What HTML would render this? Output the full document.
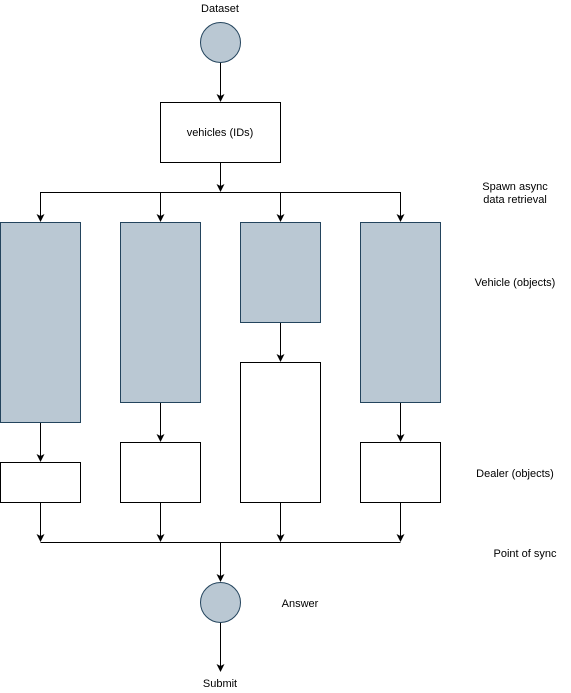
<!DOCTYPE html>
<html><head><style>body{margin:0;background:#fff}svg{display:block}text{font-family:"Liberation Sans",sans-serif;font-size:11px;fill:#000}</style></head><body>
<svg width="571" height="693" viewBox="0 0 571 693" xmlns="http://www.w3.org/2000/svg">
<defs><marker id="a" markerWidth="8" markerHeight="8" refX="7" refY="4" orient="auto" markerUnits="userSpaceOnUse"><path d="M0,0 L8,4 L0,8 L2,4 Z" fill="#000"/></marker></defs>
<g stroke="#000" fill="none" stroke-width="1">
<line x1="220.5" y1="62" x2="220.5" y2="101" marker-end="url(#a)"/>
<line x1="220.5" y1="162" x2="220.5" y2="191" marker-end="url(#a)"/>
<line x1="40.5" y1="192.5" x2="400.5" y2="192.5"/>
<line x1="40.5" y1="192" x2="40.5" y2="221" marker-end="url(#a)"/>
<line x1="160.5" y1="192" x2="160.5" y2="221" marker-end="url(#a)"/>
<line x1="280.5" y1="192" x2="280.5" y2="221" marker-end="url(#a)"/>
<line x1="400.5" y1="192" x2="400.5" y2="221" marker-end="url(#a)"/>
<line x1="40.5" y1="422" x2="40.5" y2="461" marker-end="url(#a)"/>
<line x1="160.5" y1="402" x2="160.5" y2="441" marker-end="url(#a)"/>
<line x1="280.5" y1="322" x2="280.5" y2="361" marker-end="url(#a)"/>
<line x1="400.5" y1="402" x2="400.5" y2="441" marker-end="url(#a)"/>
<line x1="40.5" y1="502" x2="40.5" y2="541" marker-end="url(#a)"/>
<line x1="160.5" y1="502" x2="160.5" y2="541" marker-end="url(#a)"/>
<line x1="280.5" y1="502" x2="280.5" y2="541" marker-end="url(#a)"/>
<line x1="400.5" y1="502" x2="400.5" y2="541" marker-end="url(#a)"/>
<line x1="40.5" y1="542.5" x2="400.5" y2="542.5"/>
<line x1="220.5" y1="542" x2="220.5" y2="581" marker-end="url(#a)"/>
<line x1="220.5" y1="622" x2="220.5" y2="671" marker-end="url(#a)"/>
</g>
<g stroke="#23445d" fill="#bac8d3">
<circle cx="220.5" cy="42.5" r="20"/>
<circle cx="220.5" cy="602.5" r="20"/>
<rect x="0.5" y="222.5" width="80" height="200"/>
<rect x="120.5" y="222.5" width="80" height="180"/>
<rect x="240.5" y="222.5" width="80" height="100"/>
<rect x="360.5" y="222.5" width="80" height="180"/>
</g>
<g stroke="#000" fill="#fff">
<rect x="160.5" y="102.5" width="120" height="60"/>
<rect x="0.5" y="462.5" width="80" height="40"/>
<rect x="120.5" y="442.5" width="80" height="60"/>
<rect x="240.5" y="362.5" width="80" height="140"/>
<rect x="360.5" y="442.5" width="80" height="60"/>
</g>
<g text-anchor="middle">
<text x="220" y="12">Dataset</text>
<text x="220" y="136">vehicles (IDs)</text>
<text x="515" y="190">Spawn async</text>
<text x="515" y="203">data retrieval</text>
<text x="515" y="286">Vehicle (objects)</text>
<text x="515" y="477">Dealer (objects)</text>
<text x="525" y="557">Point of sync</text>
<text x="300" y="607">Answer</text>
<text x="220" y="687">Submit</text>
</g>
</svg></body></html>
